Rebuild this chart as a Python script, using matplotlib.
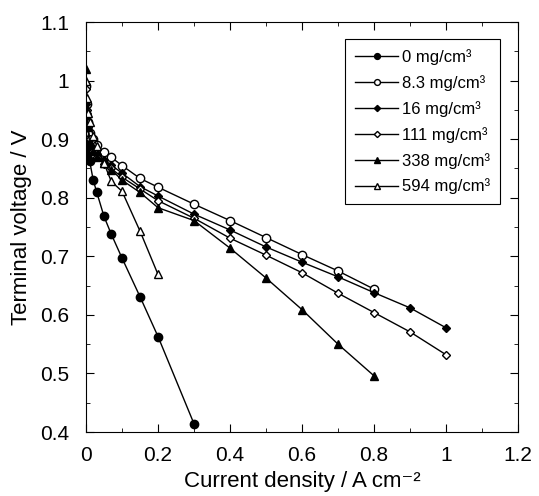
import matplotlib
matplotlib.use("Agg")
import matplotlib.pyplot as plt
from matplotlib.ticker import MultipleLocator, FuncFormatter

plt.rcParams['font.family'] = ['Liberation Sans', 'DejaVu Sans']

# current density (A/cm2) and terminal voltage (V) per loading
x_0 = [0, 0.005, 0.01, 0.02, 0.03, 0.05, 0.07, 0.1, 0.15, 0.2, 0.3]
y_0 = [0.89, 0.877, 0.863, 0.83, 0.809, 0.768, 0.738, 0.697, 0.631, 0.563, 0.414]

x_8 = [0, 0.002, 0.005, 0.01, 0.02, 0.03, 0.05, 0.07, 0.1, 0.15, 0.2, 0.3, 0.4, 0.5, 0.6, 0.7, 0.8]
y_8 = [0.99, 0.96, 0.93, 0.91, 0.90, 0.89, 0.878, 0.869, 0.855, 0.833, 0.818, 0.789, 0.761, 0.732, 0.703, 0.675, 0.644]

x_16 = [0, 0.002, 0.005, 0.01, 0.02, 0.03, 0.05, 0.07, 0.1, 0.15, 0.2, 0.3, 0.4, 0.5, 0.6, 0.7, 0.8, 0.9, 1.0]
y_16 = [0.96, 0.94, 0.92, 0.90, 0.885, 0.875, 0.865, 0.856, 0.842, 0.819, 0.803, 0.772, 0.745, 0.716, 0.69, 0.665, 0.638, 0.612, 0.578]

x_111 = [0, 0.002, 0.005, 0.01, 0.02, 0.03, 0.05, 0.07, 0.1, 0.15, 0.2, 0.3, 0.4, 0.5, 0.6, 0.7, 0.8, 0.9, 1.0]
y_111 = [0.985, 0.95, 0.92, 0.90, 0.88, 0.87, 0.858, 0.85, 0.835, 0.815, 0.795, 0.765, 0.731, 0.702, 0.672, 0.637, 0.604, 0.571, 0.532]

x_338 = [0, 0.002, 0.005, 0.01, 0.02, 0.03, 0.05, 0.07, 0.1, 0.15, 0.2, 0.3, 0.4, 0.5, 0.6, 0.7, 0.8]
y_338 = [1.02, 0.95, 0.92, 0.895, 0.88, 0.87, 0.86, 0.848, 0.83, 0.809, 0.783, 0.761, 0.714, 0.663, 0.609, 0.55, 0.496]

x_594 = [0, 0.002, 0.005, 0.01, 0.02, 0.03, 0.05, 0.07, 0.1, 0.15, 0.2]
y_594 = [1.0, 0.97, 0.945, 0.93, 0.905, 0.888, 0.859, 0.828, 0.811, 0.743, 0.669]

labels = ["0 mg/cm³", "8.3 mg/cm³", "16 mg/cm³", "111 mg/cm³", "338 mg/cm³", "594 mg/cm³"]

fig = plt.figure(figsize=(5.39, 4.96), dpi=100)
ax = fig.add_axes([0.1596, 0.129, 0.8014, 0.8266])

series = [
    (x_0, y_0, "o", "black"),
    (x_8, y_8, "o", "white"),
    (x_16, y_16, "D", "black"),
    (x_111, y_111, "D", "white"),
    (x_338, y_338, "^", "black"),
    (x_594, y_594, "^", "white"),
]
for (xs, ys, mk, fc), lab in zip(series, labels):
    ms = 6 if mk != "D" else 4.5
    ax.plot(xs, ys, color="black", lw=1, marker=mk, ms=ms, mfc=fc, mec="black",
            mew=1, label=lab)


def short_fmt(v, pos):
    s = "%.1f" % v
    return s[:-2] if s.endswith(".0") else s


ax.set_xlim(0, 1.2)
ax.set_ylim(0.4, 1.1)
ax.xaxis.set_major_locator(MultipleLocator(0.2))
ax.xaxis.set_minor_locator(MultipleLocator(0.1))
ax.yaxis.set_major_locator(MultipleLocator(0.1))
ax.yaxis.set_minor_locator(MultipleLocator(0.05))
ax.xaxis.set_major_formatter(FuncFormatter(short_fmt))
ax.yaxis.set_major_formatter(FuncFormatter(short_fmt))
ax.tick_params(which="both", direction="in", top=True, right=True, labelsize=15)
ax.tick_params(which="major", length=6)
ax.tick_params(axis="x", which="major", pad=10)
ax.tick_params(axis="y", which="major", pad=12)
ax.tick_params(which="minor", length=3)

ax.set_xlabel("Current density / A cm⁻²", fontsize=16)
ax.set_ylabel("Terminal voltage / V", fontsize=16)
ax.xaxis.set_label_coords(0.5, -0.095)
ax.yaxis.set_label_coords(-0.125, 0.5)

leg = ax.legend(loc="upper right", bbox_to_anchor=(0.958, 0.9585), fontsize=12,
                fancybox=False, edgecolor="black", framealpha=1, borderaxespad=0,
                handlelength=2.6, handletextpad=0.2, markerscale=0.7,
                labelspacing=0.6, borderpad=0.6)
leg.get_frame().set_linewidth(0.8)

fig.savefig("out.png", dpi=100)
